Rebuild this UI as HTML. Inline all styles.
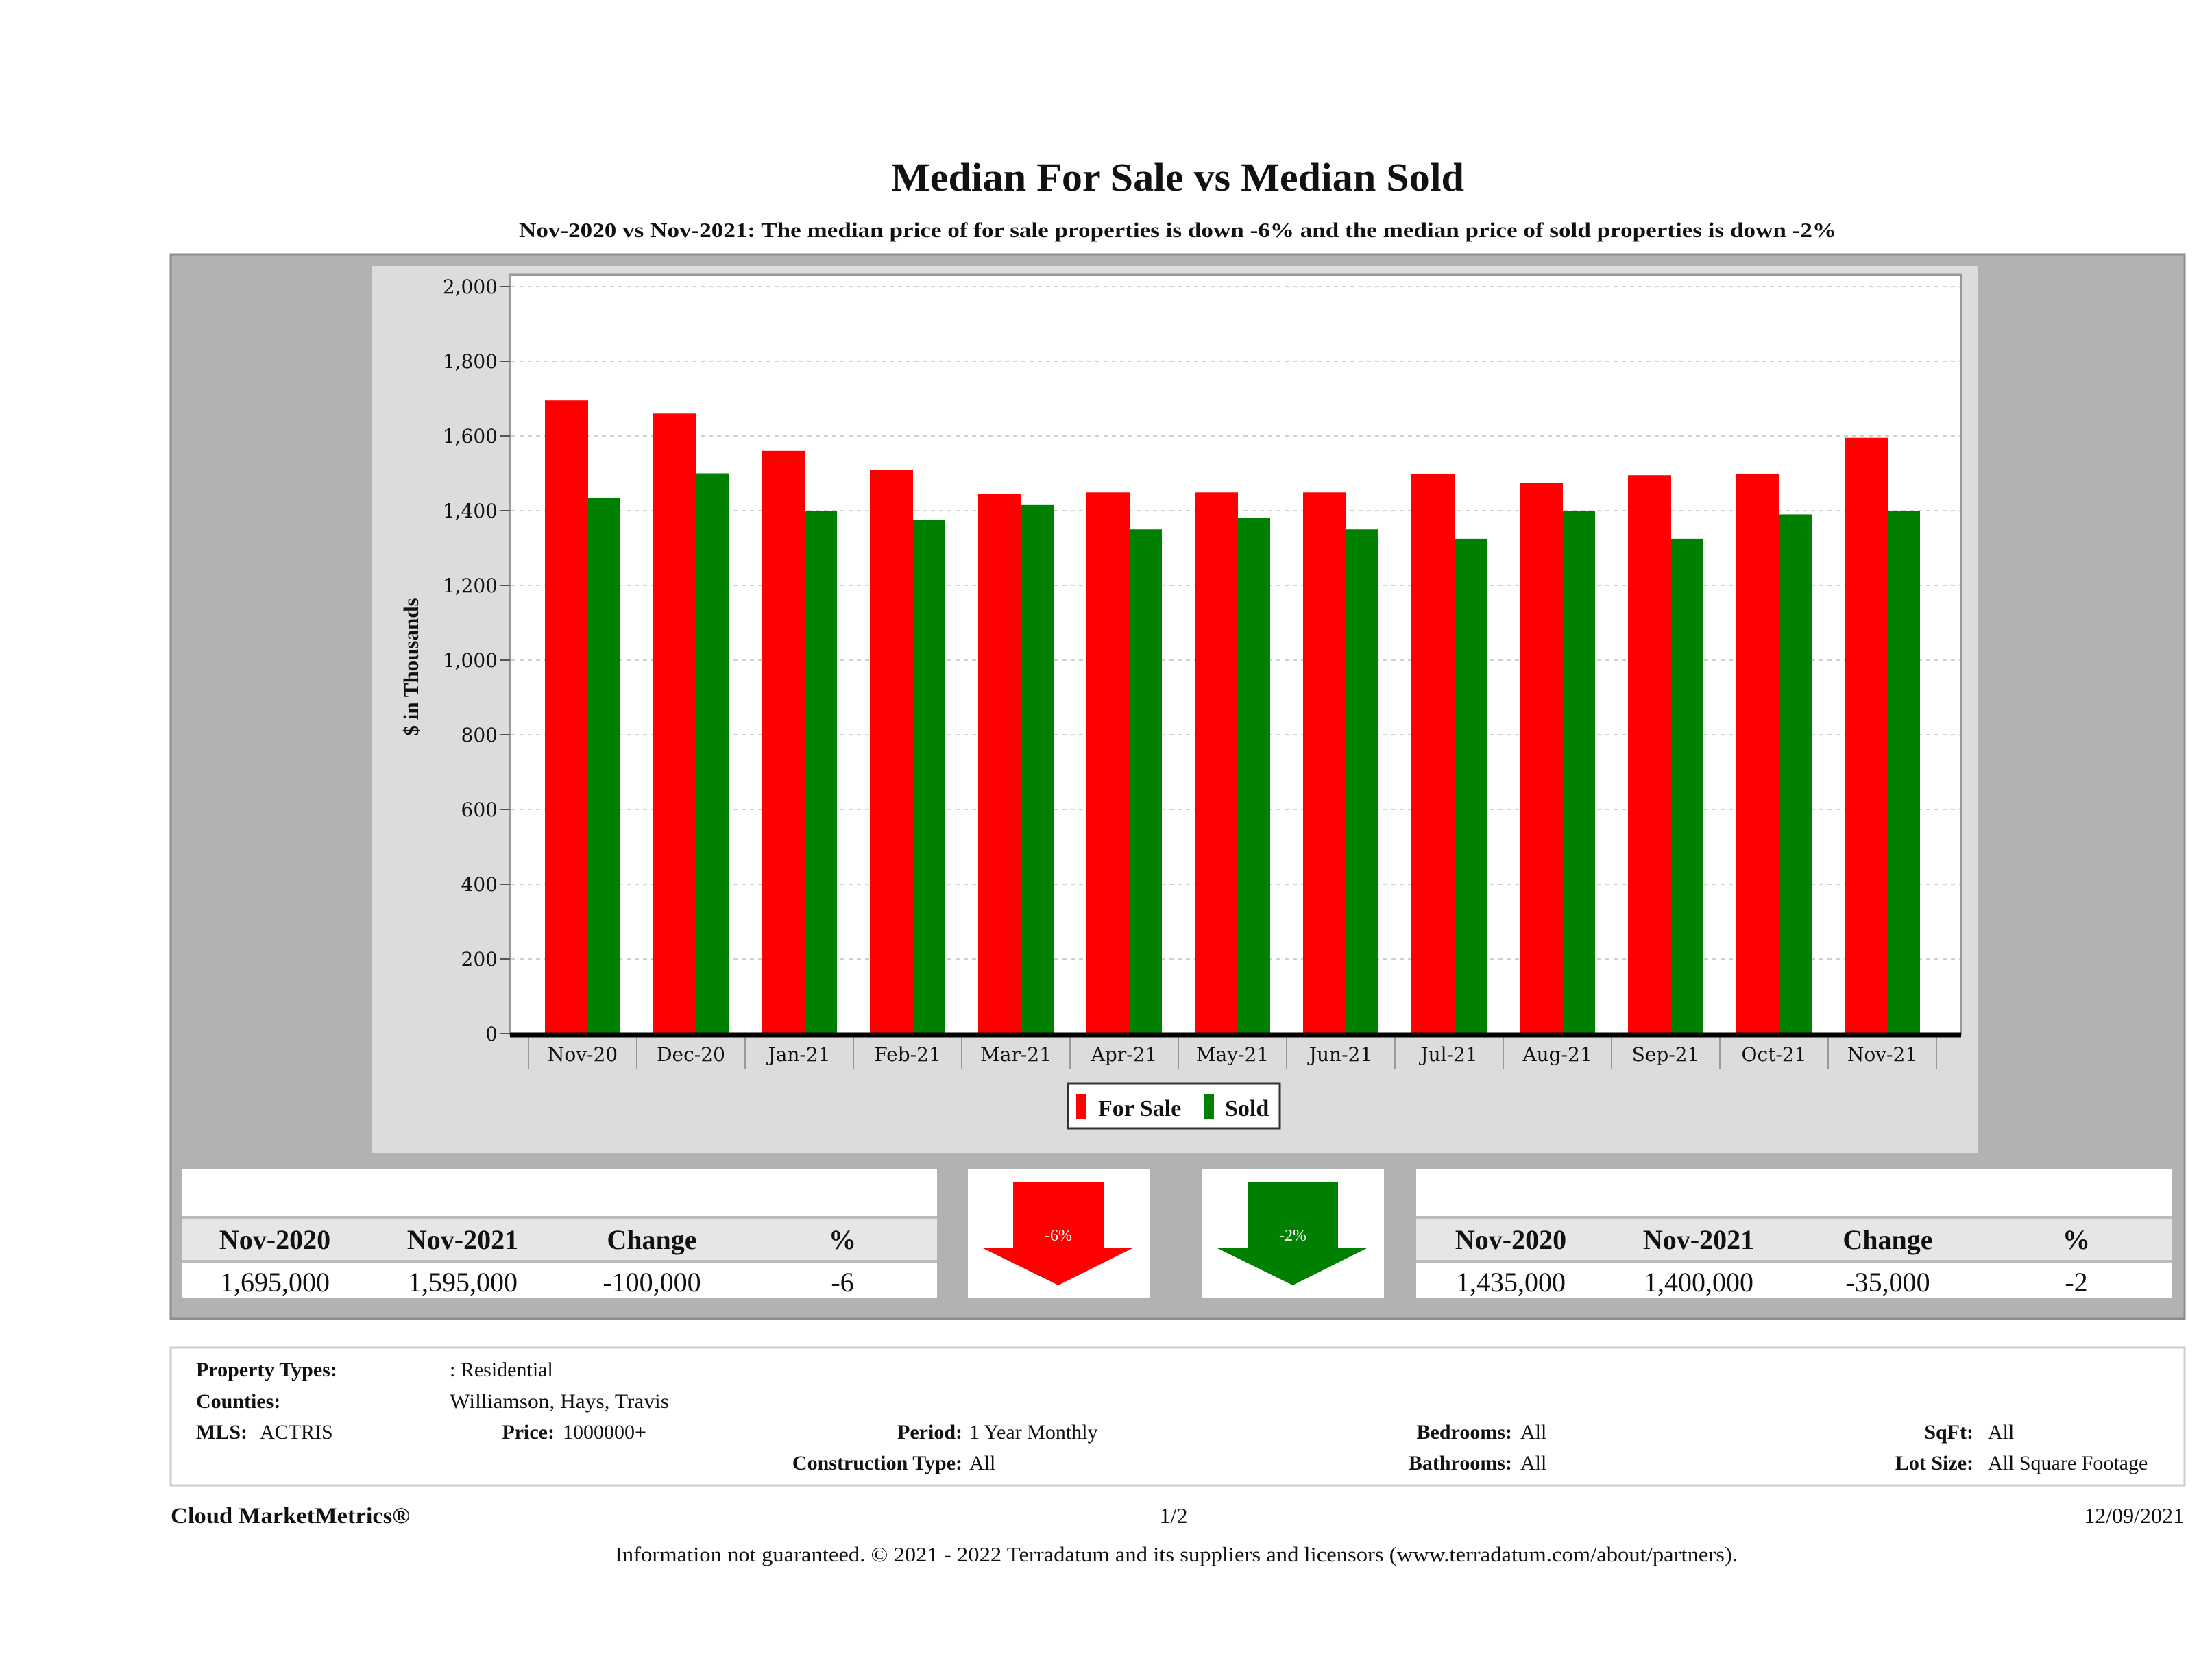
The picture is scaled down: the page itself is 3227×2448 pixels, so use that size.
<!DOCTYPE html>
<html><head><meta charset="utf-8"><style>
html,body{margin:0;padding:0;background:#fff;}
svg{display:block;}
text{font-family:"Liberation Serif","DejaVu Serif",serif;fill:#111;}
.tk{font-family:"DejaVu Serif","Liberation Serif",serif;font-size:28px;}
</style></head><body>
<svg id="page" width="3227" height="2448" viewBox="0 0 3227 2448" xmlns="http://www.w3.org/2000/svg">
<text x="1718" y="278" text-anchor="middle" font-size="58" font-weight="bold" textLength="836" lengthAdjust="spacingAndGlyphs">Median For Sale vs Median Sold</text>
<text x="1718" y="346" text-anchor="middle" font-size="31" font-weight="bold" textLength="1922" lengthAdjust="spacingAndGlyphs">Nov-2020 vs Nov-2021: The median price of for sale properties is down -6% and the median price of sold properties is down -2%</text>
<rect x="249" y="371" width="2938" height="1553" fill="#b2b2b2" stroke="#8c8c8c" stroke-width="3"/>
<rect x="543" y="388" width="2342" height="1294" fill="#dcdcdc"/>
<rect x="744" y="401" width="2117" height="1108" fill="#fff" stroke="#999" stroke-width="3"/>
<g id="grid"></g>
<g id="bars"></g>
<g id="axes"></g>
<text transform="translate(610,973) rotate(-90)" text-anchor="middle" font-size="31" font-weight="bold">$ in Thousands</text>
<g>
<rect x="1558" y="1581" width="309" height="65" fill="#fff" stroke="#333" stroke-width="3"/>
<rect x="1570" y="1596" width="14" height="36" fill="#f00"/>
<text x="1602" y="1628" font-size="34" font-weight="bold">For Sale</text>
<rect x="1757" y="1596" width="14" height="36" fill="#008000"/>
<text x="1787" y="1628" font-size="34" font-weight="bold">Sold</text>
</g>
<g>
<rect x="265" y="1705" width="1102" height="188" fill="#fff"/>
<rect x="265" y="1776" width="1102" height="62" fill="#e6e6e6"/>
<line x1="265" y1="1776" x2="1367" y2="1776" stroke="#bbb" stroke-width="4"/>
<line x1="265" y1="1840" x2="1367" y2="1840" stroke="#bbb" stroke-width="4"/>
<g font-size="40" text-anchor="middle" font-weight="bold">
<text x="401" y="1822">Nov-2020</text><text x="675" y="1822">Nov-2021</text><text x="951" y="1822">Change</text><text x="1229" y="1822">%</text></g>
<g font-size="40" text-anchor="middle">
<text x="401" y="1884">1,695,000</text><text x="675" y="1884">1,595,000</text><text x="951" y="1884">-100,000</text><text x="1229" y="1884">-6</text></g>
</g>
<g>
<rect x="1412" y="1705" width="265" height="188" fill="#fff"/>
<polygon points="1478,1724 1610,1724 1610,1821 1652,1821 1544,1875 1434,1821 1478,1821" fill="#f00"/>
<text x="1544" y="1810" text-anchor="middle" font-size="24" style="fill:#fff">-6%</text>
</g>
<g>
<rect x="1753" y="1705" width="266" height="188" fill="#fff"/>
<polygon points="1820,1724 1952,1724 1952,1821 1994,1821 1886,1875 1776,1821 1820,1821" fill="#008000"/>
<text x="1886" y="1810" text-anchor="middle" font-size="24" style="fill:#fff">-2%</text>
</g>
<g>
<rect x="2066" y="1705" width="1103" height="188" fill="#fff"/>
<rect x="2066" y="1776" width="1103" height="62" fill="#e6e6e6"/>
<line x1="2066" y1="1776" x2="3169" y2="1776" stroke="#bbb" stroke-width="4"/>
<line x1="2066" y1="1840" x2="3169" y2="1840" stroke="#bbb" stroke-width="4"/>
<g font-size="40" text-anchor="middle" font-weight="bold">
<text x="2204" y="1822">Nov-2020</text><text x="2478" y="1822">Nov-2021</text><text x="2754" y="1822">Change</text><text x="3029" y="1822">%</text></g>
<g font-size="40" text-anchor="middle">
<text x="2204" y="1884">1,435,000</text><text x="2478" y="1884">1,400,000</text><text x="2754" y="1884">-35,000</text><text x="3029" y="1884">-2</text></g>
</g>
<rect x="249" y="1966" width="2938" height="201" fill="#fff" stroke="#ccc" stroke-width="3"/>
<g font-size="30">
<text x="286" y="2008" font-weight="bold">Property Types:</text><text x="656" y="2008">: Residential</text>
<text x="286" y="2054" font-weight="bold">Counties:</text><text x="656" y="2054" textLength="320" lengthAdjust="spacingAndGlyphs">Williamson, Hays, Travis</text>
<text x="286" y="2099" font-weight="bold">MLS:</text><text x="379" y="2099">ACTRIS</text>
<text x="809" y="2099" font-weight="bold" text-anchor="end">Price:</text><text x="821" y="2099">1000000+</text>
<text x="1404" y="2099" font-weight="bold" text-anchor="end">Period:</text><text x="1414" y="2099">1 Year Monthly</text>
<text x="2206" y="2099" font-weight="bold" text-anchor="end">Bedrooms:</text><text x="2218" y="2099">All</text>
<text x="2879" y="2099" font-weight="bold" text-anchor="end">SqFt:</text><text x="2900" y="2099">All</text>
<text x="1404" y="2144" font-weight="bold" text-anchor="end">Construction Type:</text><text x="1414" y="2144">All</text>
<text x="2206" y="2144" font-weight="bold" text-anchor="end">Bathrooms:</text><text x="2218" y="2144">All</text>
<text x="2879" y="2144" font-weight="bold" text-anchor="end">Lot Size:</text><text x="2900" y="2144">All Square Footage</text>
</g>
<text x="249" y="2222" font-size="33" font-weight="bold" textLength="349" lengthAdjust="spacingAndGlyphs">Cloud MarketMetrics®</text>
<text x="1712" y="2222" font-size="32" text-anchor="middle">1/2</text>
<text x="3186" y="2222" font-size="32" text-anchor="end">12/09/2021</text>
<text x="1716" y="2278" font-size="31" text-anchor="middle" textLength="1638" lengthAdjust="spacingAndGlyphs">Information not guaranteed. © 2021 - 2022 Terradatum and its suppliers and licensors (www.terradatum.com/about/partners).</text>
</svg>
<script>
const categories = ["Nov-20","Dec-20","Jan-21","Feb-21","Mar-21","Apr-21","May-21","Jun-21","Jul-21","Aug-21","Sep-21","Oct-21","Nov-21"];
const forSale = [1695,1660,1560,1510,1445,1449,1449,1449,1499,1475,1495,1499,1595];
const sold = [1435,1500,1400,1375,1415,1350,1380,1350,1325,1400,1325,1390,1400];
const yTicks = [0,200,400,600,800,1000,1200,1400,1600,1800,2000];
const yTickLabels = ["0","200","400","600","800","1,000","1,200","1,400","1,600","1,800","2,000"];

const NS = "http://www.w3.org/2000/svg";
const Y0 = 1508, Y1 = 418, VMAX = 2000;
function yScale(v){ return Y0 - (v / VMAX) * (Y0 - Y1); }
const X0 = 771, CW = 158;
function xBand(i){ return X0 + i * CW; }
function mk(tag, attrs, parent){ const e = document.createElementNS(NS, tag); for (const k in attrs) e.setAttribute(k, attrs[k]); parent.appendChild(e); return e; }

const grid = document.getElementById('grid');
const axes = document.getElementById('axes');
const bars = document.getElementById('bars');
yTicks.forEach((t, i) => {
  const y = yScale(t);
  if (t > 0) {
    const g = mk('line', {x1: 746, x2: 2859, y1: y, y2: y, stroke: '#cfcfcf', 'stroke-width': 2, 'stroke-dasharray': '6,6'}, grid);
    
    
  }
  const tk = mk('line', {x1: 730, x2: 744, y1: y, y2: y, stroke: '#555', 'stroke-width': 2}, axes);
  
  
  const lb = mk('text', {x: 726, y: y + 10, 'text-anchor': 'end', class: 'tk'}, axes);
  lb.textContent = yTickLabels[i];
  
  
});
categories.forEach((c, i) => {
  const bx = xBand(i);
  const r = mk('rect', {x: bx + 24, y: yScale(forSale[i]), width: 63, height: Y0 - yScale(forSale[i]), fill: '#ff0000'}, bars);
  
  
  const g = mk('rect', {x: bx + 87, y: yScale(sold[i]), width: 47, height: Y0 - yScale(sold[i]), fill: '#008000'}, bars);
  
  
  const sep = mk('line', {x1: bx + CW, x2: bx + CW, y1: 1512, y2: 1560, stroke: '#999', 'stroke-width': 2}, axes);
  
  
  const lb = mk('text', {x: bx + CW / 2, y: 1548, 'text-anchor': 'middle', class: 'tk'}, axes);
  lb.textContent = c;
  
  
});
const first = mk('line', {x1: X0, x2: X0, y1: 1512, y2: 1560, stroke: '#999', 'stroke-width': 2}, axes);


const base = mk('line', {x1: 744, x2: 2861, y1: 1510, y2: 1510, stroke: '#000', 'stroke-width': 7}, axes);


</script>
</body></html>
